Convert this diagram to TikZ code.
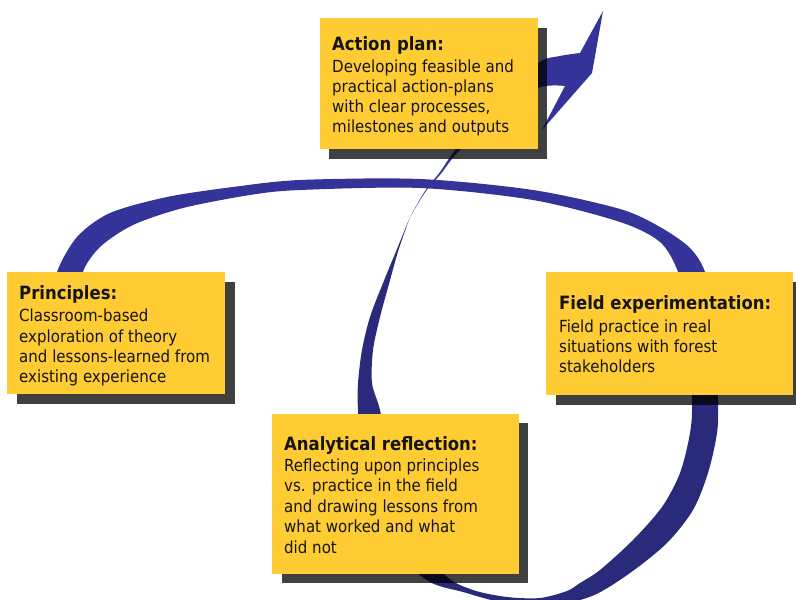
\documentclass[tikz,border=0pt]{standalone}
\usepackage{fontspec}
\setmainfont{DejaVu Sans}[FakeStretch=0.9]
\definecolor{ribL}{RGB}{51,51,153}
\definecolor{ribD}{RGB}{42,42,122}
\definecolor{boxY}{RGB}{255,204,51}
\definecolor{txtK}{RGB}{20,20,20}
\tikzset{
  ybox/.style={fill=boxY, draw=none, anchor=north west, inner sep=0},
  sbox/.style={fill=black, fill opacity=0.75, draw=none, anchor=north west, inner sep=0},
  bodytxt/.style={anchor=base west, inner sep=0, text=txtK, font=\fontsize{16.7}{20}\selectfont},
  titletxt/.style={anchor=base west, inner sep=0, text=txtK, font=\fontsize{18.3}{22}\selectfont\bfseries},
}
\begin{document}
\begin{tikzpicture}[x=1pt,y=-1pt]
\useasboundingbox (0,0) rectangle (796,600);
\clip (0,0) rectangle (796,600);
% ---- ribbon: top arc ----
\fill[ribL] plot[smooth] coordinates {(56,300) (57,272) (77,237) (110,213) (167,197) (233,187) (300,180) (420,179) (533,190) (620,209) (660,227) (690,248) (705,272) (711,310)}
  -- plot[smooth] coordinates {(684,310) (678,272) (660,242) (620,222) (533,200) (420,188) (300,190) (250,195) (183,208) (133,225) (100,247) (83,272) (84,300)} -- cycle;
% ---- ribbon: right side, bottom, left arm ----
\fill[ribD] plot[smooth] coordinates {(714,320) (718,400) (717,433) (708,473) (693,510) (667,543) (630,573) (592,596) (545,607) (500,602) (463,592) (430,582) (400,555) (375,500) (362,450) (358,410) (358,383) (362,350) (370,317) (383,283) (397,249) (410,217)}
  -- plot[smooth] coordinates {(410,217) (398.5,250) (389,284) (380,317) (373,350) (372,383) (380,410) (392,465) (415,530) (445,575) (473,590) (507,597) (540,598) (567,591) (580,583) (600,570) (633,540) (662,507) (680,473) (690,433) (692,400) (688,320)} -- cycle;
% ---- ribbon: twist to arrow ----
\fill[ribL] plot[smooth] coordinates {(410,217) (425,191) (440,172) (456,149) (495,102) (538,63) (560,56) (580,53)}
  -- (603,11) -- (592,73) -- (542,130) -- (565,86)
  -- plot[smooth] coordinates {(565,86) (538,88) (500,116) (459,151) (441,173.6) (425.6,191.6) (410,217)} -- cycle;
% ---- shadows ----
\node[sbox, minimum width=218, minimum height=131] (sA) at (329,28) {};
\node[sbox, minimum width=218, minimum height=122] (sP) at (17,282) {};
\node[sbox, minimum width=247, minimum height=123] (sF) at (556,282) {};
\node[sbox, minimum width=246, minimum height=160] (sR) at (282,423) {};
% ---- boxes ----
\node[ybox, minimum width=218, minimum height=131] (bA) at (320,18) {};
\node[ybox, minimum width=218, minimum height=122] (bP) at (7,272) {};
\node[ybox, minimum width=247, minimum height=123] (bF) at (546,272) {};
\node[ybox, minimum width=247, minimum height=160] (bR) at (272,414) {};
% ---- texts ----
\node[titletxt] (tA) at (332,50) {Action plan:};
\foreach \t [count=\i] in {{Developing feasible and}, {practical action-plans}, {with clear processes,}, {milestones and outputs}}
  \node[bodytxt] (lA\i) at (332,{52+20*\i}) {\t};
\node[titletxt] (tP) at (19,299) {Principles:};
\foreach \t [count=\i] in {{Classroom-based}, {exploration of theory}, {and lessons-learned from}, {existing experience}}
  \node[bodytxt] (lP\i) at (19,{301.5+20.3*\i}) {\t};
\node[titletxt] (tF) at (559,309) {Field experimentation:};
\foreach \t [count=\i] in {{Field practice in real}, {situations with forest}, {stakeholders}}
  \node[bodytxt] (lF\i) at (559,{312+20*\i}) {\t};
\node[titletxt] (tR) at (284,450) {Analytical reflection:};
\foreach \t [count=\i] in {{Reflecting upon principles}, {vs. practice in the field}, {and drawing lessons from}, {what worked and what}, {did not}}
  \node[bodytxt] (lR\i) at (284,{450.5+20.5*\i}) {\t};
\end{tikzpicture}
\end{document}
